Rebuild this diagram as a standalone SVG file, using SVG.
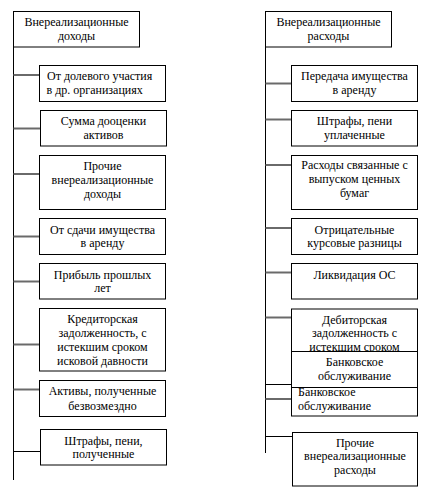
<svg xmlns="http://www.w3.org/2000/svg" width="424" height="491" viewBox="0 0 424 491">
<style>
.box{fill:#fff;stroke:#000;stroke-width:1}
.t{font-family:"Liberation Serif","Times New Roman",serif;font-size:12px;fill:#000;text-anchor:middle}
.l{text-anchor:start}
.vline{stroke:#000;stroke-width:1;fill:none}
.g{stroke:#6a6a6a;stroke-width:2;fill:none}
.k{stroke:#000;stroke-width:1;fill:none}
</style>
<rect width="424" height="491" fill="#fff"/>
<g id="connectors">
<line class="vline" x1="13.5" y1="47" x2="13.5" y2="480"/>
<line class="g" x1="13.5" y1="75" x2="39.5" y2="75"/>
<line class="g" x1="13.5" y1="128.5" x2="40.5" y2="128.5"/>
<line class="g" x1="13.5" y1="174" x2="39.5" y2="174"/>
<line class="g" x1="13.5" y1="236.5" x2="39.5" y2="236.5"/>
<line class="g" x1="13.5" y1="281.5" x2="39.5" y2="281.5"/>
<line class="g" x1="13.5" y1="344.5" x2="39.5" y2="344.5"/>
<line class="g" x1="13.5" y1="389.5" x2="39.5" y2="389.5"/>
<line class="k" x1="13.5" y1="451.5" x2="40.5" y2="451.5"/>
<line class="vline" x1="265.5" y1="47" x2="265.5" y2="453"/>
<line class="g" x1="265.5" y1="83.5" x2="291.5" y2="83.5"/>
<line class="g" x1="265.5" y1="119.5" x2="291.5" y2="119.5"/>
<line class="g" x1="265.5" y1="165" x2="291.5" y2="165"/>
<line class="g" x1="265.5" y1="228" x2="291.5" y2="228"/>
<line class="g" x1="265.5" y1="272.5" x2="291.5" y2="272.5"/>
<line class="g" x1="265.5" y1="317.5" x2="291.5" y2="317.5"/>
<line class="k" x1="265.5" y1="384.5" x2="291.5" y2="384.5"/>
<line class="g" x1="265.5" y1="399" x2="291.5" y2="399"/>
<line class="k" x1="265.5" y1="436.5" x2="292.5" y2="436.5"/>
</g>
<g id="income-header">
<rect class="box" x="13.5" y="11.5" width="126" height="35.5"/>
<text class="t" x="76.5" y="26">Внереализационные</text>
<text class="t" x="76.5" y="40">доходы</text>
</g>
<g id="inc1">
<rect class="box" x="39.5" y="65.5" width="126" height="36"/>
<text class="t l" x="47" y="80">От долевого участия</text>
<text class="t l" x="46.5" y="94">в др. организациях</text>
</g>
<g id="inc2">
<rect class="box" x="40.5" y="110.5" width="126" height="35.5"/>
<text class="t" x="103.5" y="124.5">Сумма дооценки</text>
<text class="t" x="103.5" y="138.5">активов</text>
</g>
<g id="inc3">
<rect class="box" x="39.5" y="155.5" width="126" height="54"/>
<text class="t" x="102.5" y="169.5">Прочие</text>
<text class="t" x="102.5" y="183.5">внереализационные</text>
<text class="t" x="102.5" y="197.5">доходы</text>
</g>
<g id="inc4">
<rect class="box" x="39.5" y="218.5" width="126" height="36"/>
<text class="t" x="102.5" y="233.5">От сдачи имущества</text>
<text class="t" x="102.5" y="247">в аренду</text>
</g>
<g id="inc5">
<rect class="box" x="39.5" y="263.5" width="126" height="35.5"/>
<text class="t" x="102.5" y="278.5">Прибыль прошлых</text>
<text class="t" x="102.5" y="292">лет</text>
</g>
<g id="inc6">
<rect class="box" x="39.5" y="308.5" width="126" height="62.5"/>
<text class="t" x="102.5" y="323">Кредиторская</text>
<text class="t" x="102.5" y="337">задолженность, с</text>
<text class="t" x="102.5" y="351">истекшим сроком</text>
<text class="t" x="102.5" y="364.5">исковой давности</text>
</g>
<g id="inc7">
<rect class="box" x="39.5" y="380.5" width="126" height="36"/>
<text class="t" x="102.5" y="395">Активы, полученные</text>
<text class="t" x="102.5" y="409.5">безвозмездно</text>
</g>
<g id="inc8">
<rect class="box" x="40.5" y="429.5" width="126" height="35.5"/>
<text class="t" x="103.5" y="444.5">Штрафы, пени,</text>
<text class="t" x="103.5" y="457.5">полученные</text>
</g>
<g id="exp-header">
<rect class="box" x="265.5" y="11.5" width="126" height="35.5"/>
<text class="t" x="328.5" y="26">Внереализационные</text>
<text class="t" x="328.5" y="40">расходы</text>
</g>
<g id="exp1">
<rect class="box" x="291.5" y="65.5" width="126" height="36"/>
<text class="t" x="354.5" y="80">Передача имущества</text>
<text class="t" x="354.5" y="94">в аренду</text>
</g>
<g id="exp2">
<rect class="box" x="291.5" y="110.5" width="126" height="35.5"/>
<text class="t" x="354.5" y="124.5">Штрафы, пени</text>
<text class="t" x="354.5" y="138.5">уплаченные</text>
</g>
<g id="exp3">
<rect class="box" x="291.5" y="155.5" width="126" height="54"/>
<text class="t" x="354.5" y="168.5">Расходы связанные с</text>
<text class="t" x="354.5" y="182.5">выпуском ценных</text>
<text class="t" x="354.5" y="196.5">бумаг</text>
</g>
<g id="exp4">
<rect class="box" x="291.5" y="218.5" width="126" height="36"/>
<text class="t" x="354.5" y="233.5">Отрицательные</text>
<text class="t" x="354.5" y="247">курсовые разницы</text>
</g>
<g id="exp5">
<rect class="box" x="291.5" y="263.5" width="126" height="35.5"/>
<text class="t" x="354.5" y="278.5">Ликвидация ОС</text>
</g>
<g id="exp6">
<rect class="box" x="291.5" y="309" width="126" height="107"/>
<text class="t" x="354.5" y="323.5">Дебиторская</text>
<text class="t" x="354.5" y="337">задолженность с</text>
<text class="t" x="354.5" y="351">истекшим сроком</text>
<text class="t l" x="298" y="396">Банковское</text>
<text class="t l" x="298" y="410">обслуживание</text>
</g>
<g id="exp6b">
<rect class="box" x="291.5" y="351.5" width="126" height="36"/>
<text class="t" x="354.5" y="366">Банковское</text>
<text class="t" x="354.5" y="380">обслуживание</text>
</g>
<g id="exp7">
<rect class="box" x="292.5" y="432.5" width="125" height="53.5"/>
<text class="t" x="355" y="446.5">Прочие</text>
<text class="t" x="355" y="460">внереализационные</text>
<text class="t" x="355" y="474">расходы</text>
</g>
</svg>
